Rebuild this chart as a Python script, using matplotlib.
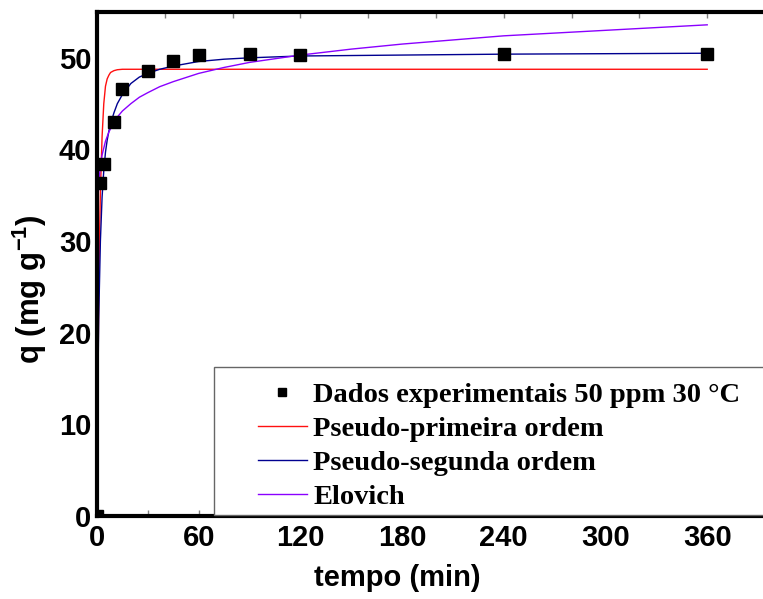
import matplotlib
matplotlib.use("Agg")
import matplotlib.pyplot as plt
from matplotlib.patches import Rectangle
import numpy as np

# experimental points
t_exp = [0, 2, 4, 10, 15, 30, 45, 60, 90, 120, 240, 360]
q_exp = [0, 36.3, 38.4, 43.0, 46.6, 48.6, 49.7, 50.3, 50.4, 50.3, 50.45, 50.45]

# model curves
t_pfo = [0, 0.25, 0.5, 1, 1.5, 2, 3, 4, 5, 6, 7, 8, 10, 12, 15, 20, 360]
q_pfo = [0, 7.3, 13.3, 23.6, 30.5, 35.4, 41.4, 45.0, 46.9, 47.7, 48.1, 48.4, 48.6, 48.7, 48.75, 48.75, 48.75]

t_pso = [0, 0.25, 0.5, 1, 2, 3, 4, 5, 6, 7, 8.5, 10, 12, 15, 20, 25, 30, 37, 45, 60, 75, 90, 120, 180,
         240, 300, 360]
q_pso = [0, 7.5, 13.5, 21.5, 30.0, 34.8, 37.7, 39.7, 41.0, 42.0, 43.1, 44.0, 45.0, 46.0, 47.2, 47.9,
         48.3, 48.75, 49.1, 49.6, 49.85, 50.0, 50.2, 50.3, 50.4, 50.45, 50.5]

t_elo = [0, 0.05, 0.2, 0.5, 1, 2, 3, 5, 7, 10, 12.5, 15, 20, 25, 30, 37, 45, 60, 75, 90, 120, 150, 180,
         240, 300, 360]
q_elo = [0, 27.4, 31.45, 34.2, 36.2, 38.2, 39.4, 40.9, 41.9, 43.0, 43.65, 44.2, 45.0, 45.7, 46.2, 46.85,
         47.4, 48.3, 48.95, 49.5, 50.3, 50.95, 51.5, 52.4, 53.0, 53.6]

x_ticks = [0, 60, 120, 180, 240, 300, 360]
y_ticks = [0, 10, 20, 30, 40, 50]

W, H = 763, 599
plt.rcParams['mathtext.fontset'] = 'custom'
plt.rcParams['mathtext.bf'] = 'Liberation Sans:bold'
plt.rcParams['mathtext.rm'] = 'Liberation Sans:bold'

fig = plt.figure(figsize=(W / 100, H / 100), dpi=100)
ax = fig.add_axes([97 / W, 83 / H, 678 / W, 504 / H])

ax.plot(t_exp, q_exp, 's', color='black', markersize=8.5, label='Dados experimentais 50 ppm 30 °C', zorder=3)
ax.plot(t_pfo, q_pfo, '-', color='#ff1010', lw=1.0, label='Pseudo-primeira ordem')
ax.plot(t_pso, q_pso, '-', color='#000090', lw=1.0, label='Pseudo-segunda ordem')
ax.plot(t_elo, q_elo, '-', color='#8a00ff', lw=1.0, label='Elovich')

ax.set_xlim(0, 400)
ax.set_ylim(0, 55)

for s in ['left', 'bottom', 'top']:
    ax.spines[s].set_linewidth(3)
ax.spines['right'].set_visible(False)

tick_font = dict(family=['Liberation Sans', 'DejaVu Sans'], weight='bold', size=21)
ax.set_xticks(x_ticks)
ax.set_xticklabels([str(v) for v in x_ticks], **tick_font)
ax.set_xticks(np.arange(30, 400, 60), minor=True)
ax.set_yticks(y_ticks)
ax.set_yticklabels([str(v) for v in y_ticks], **tick_font)
ax.tick_params(axis='x', which='both', direction='in', length=4, width=1, color='0.5', pad=6)
ax.tick_params(axis='y', length=0, pad=4)

top = ax.secondary_xaxis('top')
top.set_xticks(np.arange(0, 401, 40))
top.tick_params(direction='in', length=4, width=1, color='0.5', labeltop=False)
top.spines['top'].set_visible(False)

lab_font = dict(family=['Liberation Sans', 'DejaVu Sans'], weight='bold', size=21)
ax.set_xlabel('tempo (min)', **lab_font)
ax.xaxis.set_label_coords(0.443, -0.123)
ax.xaxis.label.set_va('center')
ax.set_ylabel(r'q (mg g$^{\mathrm{-1}}$)', family=['Liberation Sans', 'DejaVu Sans'], weight='bold', size=22.5)
ax.yaxis.set_label_coords(-0.099, 0.45)
ax.yaxis.label.set_va('center')

# legend box
fig.patches.append(Rectangle((214 / W, 84 / H), 0.8, (515 - 367) / H, transform=fig.transFigure,
                             facecolor='white', edgecolor='0.4', linewidth=1, zorder=2))
leg = fig.legend(loc='lower left', bbox_to_anchor=(258 / W, 89 / H), frameon=False,
                 prop=dict(family=['Liberation Serif', 'DejaVu Serif'], weight='bold', size=20.5),
                 borderaxespad=0, borderpad=0,
                 handlelength=1.72, handletextpad=0.22, labelspacing=0.28, markerscale=0.75)
leg.set_zorder(3)

fig.savefig('out.png', dpi=100)
